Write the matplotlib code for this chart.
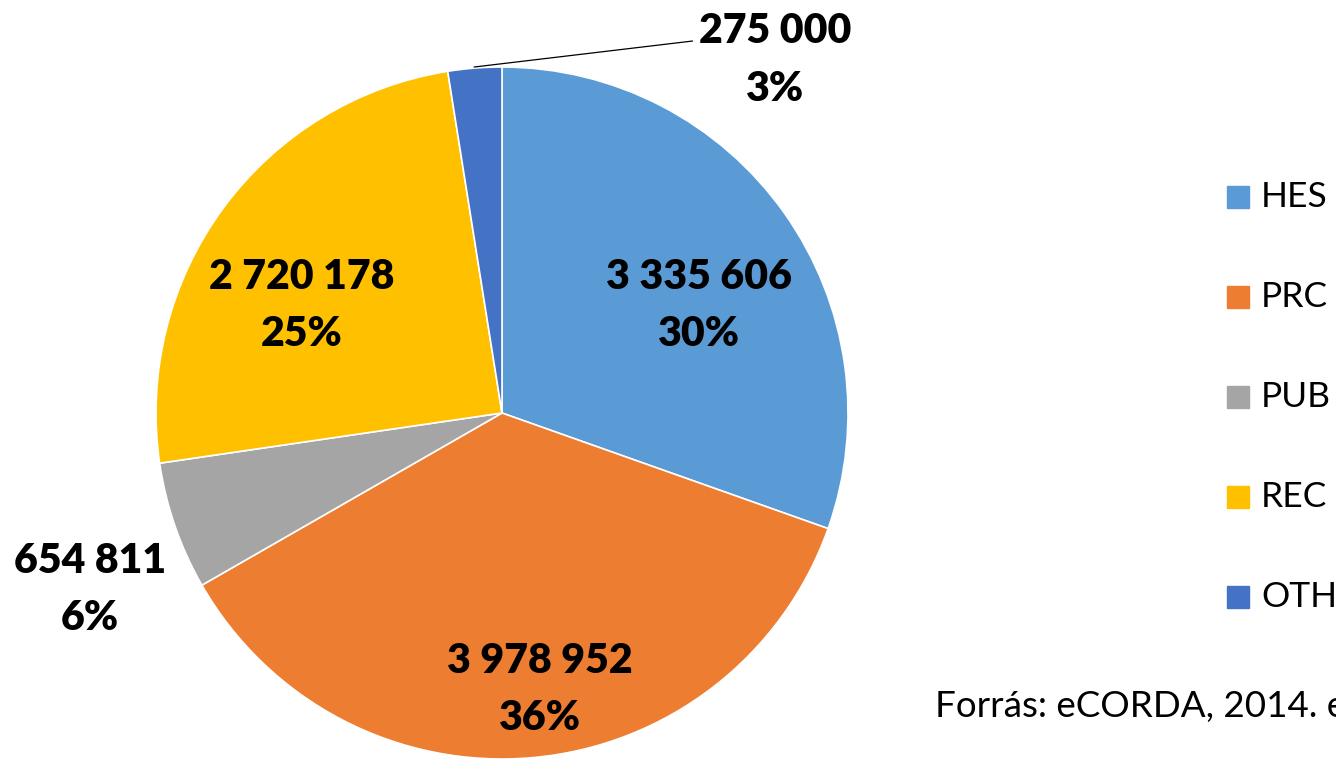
import matplotlib.pyplot as plt
import numpy as np

# data
names = ["HES", "PRC", "PUB", "REC", "OTH"]
values = [3335606, 3978952, 654811, 2720178, 275000]
pcts = ["30%", "36%", "6%", "25%", "3%"]
colors = ["#5B9BD5", "#ED7D31", "#A5A5A5", "#FFC000", "#4472C4"]

# label placement (radius units of the pie)
label_xy = [(0.57, 0.31), (0.11, -0.80), (-1.19, -0.51), (-0.58, 0.31), (0.79, 1.02)]

W, H = 1336, 759
fig = plt.figure(figsize=(W / 100, H / 100), dpi=100)
cx, cy, r = 502, 413, 346
ax = fig.add_axes([(cx - r) / W, (H - cy - r) / H, 2 * r / W, 2 * r / H])

wedges, _ = ax.pie(values, colors=colors, startangle=90, counterclock=False,
                   radius=1, wedgeprops=dict(edgecolor="white", linewidth=1.2))
ax.set_xlim(-1, 1)
ax.set_ylim(-1, 1)
ax.set_aspect("equal")
ax.axis("off")

font = "Lato"
for v, p, (x, y) in zip(values, pcts, label_xy):
    txt = f"{v:,}".replace(",", " ") + "\n" + p
    ax.text(x, y, txt, ha="center", va="center", fontsize=29.5, fontweight="heavy",
            family=font, linespacing=1.62, clip_on=False)

# leader line for the small OTH slice
ax.plot([-0.08, 0.55], [1.0, 1.075], color="black", lw=0.9, clip_on=False)

# legend drawn by hand
for i, (n, c) in enumerate(zip(names, colors)):
    yy = H - (197 + 100 * i)
    fig.patches.append(plt.Rectangle((1227 / W, (yy - 11) / H), 22 / W, 22 / H,
                                     color=c, transform=fig.transFigure))
    fig.text(1261 / W, yy / H, n, fontsize=25.5, family=font, va="center", ha="left")

fig.text(935 / W, (H - 707) / H, "Forrás: eCORDA, 2014. e", fontsize=26.5, family=font,
         va="center", ha="left")

fig.savefig("out.png", dpi=100, facecolor="white")
